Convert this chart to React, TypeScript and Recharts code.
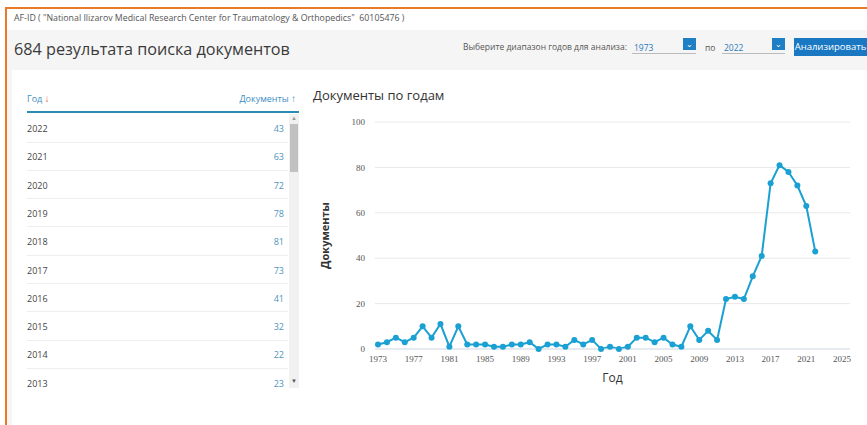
import { LineChart, Line, XAxis, YAxis, CartesianGrid } from "recharts";

const years = [
  1973, 1974, 1975, 1976, 1977, 1978, 1979, 1980, 1981, 1982,
  1983, 1984, 1985, 1986, 1987, 1988, 1989, 1990, 1991, 1992,
  1993, 1994, 1995, 1996, 1997, 1998, 1999, 2000, 2001, 2002,
  2003, 2004, 2005, 2006, 2007, 2008, 2009, 2010, 2011, 2012,
  2013, 2014, 2015, 2016, 2017, 2018, 2019, 2020, 2021, 2022,
];
const docs = [
  2, 3, 5, 3, 5, 10, 5, 11, 1, 10,
  2, 2, 2, 1, 1, 2, 2, 3, 0, 2,
  2, 1, 4, 2, 4, 0, 1, 0, 1, 5,
  5, 3, 5, 2, 1, 10, 4, 8, 4, 22,
  23, 22, 32, 41, 73, 81, 78, 72, 63, 43,
];
const xTicks = [1973, 1977, 1981, 1985, 1989, 1993, 1997, 2001, 2005, 2009, 2013, 2017, 2021, 2025];
const yTicks = [0, 20, 40, 60, 80, 100];
const tableYears = [2022, 2021, 2020, 2019, 2018, 2017, 2016, 2015, 2014, 2013];

const data = years.map((y, i) => ({ year: y, docs: docs[i] }));
const tableRows = tableYears.map((y) => ({ year: y, docs: docs[years.indexOf(y)] }));

const SANS = "'Open Sans', 'Noto Sans', sans-serif";
const BLUE = "#1aa0d2";

export default function App() {
  return (
    <div
      style={{
        position: "absolute",
        left: 0,
        top: 0,
        width: 867,
        height: 425,
        overflow: "hidden",
        background: "#fff",
        fontFamily: SANS,
      }}
    >
      {/* orange frame */}
      <div style={{ position: "absolute", left: 5, top: 7, width: 870, height: 2, background: "#ea7a2a" }} />
      <div style={{ position: "absolute", left: 5, top: 7, width: 2, height: 430, background: "#ea7a2a" }} />

      <div style={{ position: "absolute", left: 14, top: 12, fontSize: 8.8, color: "#555", whiteSpace: "nowrap" }}>
        AF-ID ( "National Ilizarov Medical Research Center for Traumatology &amp; Orthopedics"&nbsp;&nbsp;60105476 )
      </div>

      {/* grey band */}
      <div style={{ position: "absolute", left: 7, top: 30, width: 860, height: 395, background: "#f5f5f5" }} />
      <div style={{ position: "absolute", left: 14, top: 38, fontSize: 16.2, color: "#3a3a3a", whiteSpace: "nowrap" }}>
        684 результата поиска документов
      </div>

      <div style={{ position: "absolute", left: 463, top: 41, fontSize: 8.5, color: "#555", whiteSpace: "nowrap" }}>
        Выберите диапазон годов для анализа:
      </div>
      <div style={{ position: "absolute", left: 634, top: 42, fontSize: 8.5, color: "#2b7bb9" }}>1973</div>
      <div style={{ position: "absolute", left: 632, top: 53, width: 64, height: 1, background: "#bbb" }} />
      <div style={{ position: "absolute", left: 683, top: 38, width: 13, height: 12, background: "#1f7fc4", color: "#fff", fontSize: 8, textAlign: "center", lineHeight: "11px" }}>⌄</div>
      <div style={{ position: "absolute", left: 705, top: 42, fontSize: 8.5, color: "#555" }}>по</div>
      <div style={{ position: "absolute", left: 724, top: 42, fontSize: 8.5, color: "#2b7bb9" }}>2022</div>
      <div style={{ position: "absolute", left: 722, top: 53, width: 63, height: 1, background: "#bbb" }} />
      <div style={{ position: "absolute", left: 772, top: 38, width: 13, height: 12, background: "#1f7fc4", color: "#fff", fontSize: 8, textAlign: "center", lineHeight: "11px" }}>⌄</div>
      <div
        style={{
          position: "absolute",
          left: 794,
          top: 38,
          width: 73,
          height: 18,
          background: "#1a78c2",
          color: "#fff",
          fontSize: 9.5,
          lineHeight: "18px",
          textAlign: "center",
          whiteSpace: "nowrap",
        }}
      >
        Анализировать
      </div>

      {/* white card */}
      <div style={{ position: "absolute", left: 12, top: 70, width: 860, height: 360, background: "#fff" }} />

      {/* table */}
      <div style={{ position: "absolute", left: 27, top: 91, fontSize: 9, color: "#3b8ec2" }}>
        Год <span style={{ color: "#e8643a", fontSize: 10 }}>↓</span>
      </div>
      <div style={{ position: "absolute", left: 200, width: 96, top: 91, fontSize: 9, color: "#3b8ec2", textAlign: "right", whiteSpace: "nowrap" }}>
        Документы <span style={{ fontSize: 10 }}>↑</span>
      </div>
      <div style={{ position: "absolute", left: 27, top: 111, width: 272, height: 2, background: "#2a8bb3" }} />
      {tableRows.map((r, i) => (
        <div key={r.year}>
          <div style={{ position: "absolute", left: 27, top: 122 + i * 28.3, fontSize: 9, color: "#444" }}>{r.year}</div>
          <div style={{ position: "absolute", left: 230, width: 54, top: 122 + i * 28.3, fontSize: 9, color: "#4f95bd", textAlign: "right" }}>
            {r.docs}
          </div>
          {i < tableRows.length - 1 && (
            <div style={{ position: "absolute", left: 27, top: 141.5 + i * 28.3, width: 261, height: 1, background: "#eeeeee" }} />
          )}
        </div>
      ))}
      {/* scrollbar */}
      <div style={{ position: "absolute", left: 289, top: 114, width: 10, height: 274, background: "#f1f1f1" }} />
      <div style={{ position: "absolute", left: 290, top: 124, width: 8, height: 48, background: "#c1c1c1" }} />
      <div style={{ position: "absolute", left: 289, top: 114, width: 10, fontSize: 6, color: "#999", textAlign: "center" }}>▲</div>
      <div style={{ position: "absolute", left: 289, top: 377, width: 10, fontSize: 6, color: "#555", textAlign: "center" }}>▼</div>

      {/* chart */}
      <div style={{ position: "absolute", left: 313, top: 86, fontSize: 13, color: "#333", whiteSpace: "nowrap" }}>
        Документы по годам
      </div>
      <div style={{ position: "absolute", left: 305, top: 110 }}>
        <LineChart width={560} height={282} data={data} margin={{ top: 12, right: 15, bottom: 8, left: 0 }}>
          <CartesianGrid vertical={false} stroke="#e8e8e8" />
          <XAxis
            dataKey="year"
            type="number"
            domain={[1973, 2025]}
            ticks={xTicks}
            padding={{ left: 3, right: 8 }}
            height={35}
            axisLine={{ stroke: "#d6e2ee" }}
            tickLine={false}
            tickMargin={1}
            tick={{ fontSize: 9, fill: "#555", fontFamily: "'Liberation Serif', serif" }}
            label={{ value: "Год", position: "insideBottom", offset: 2, fontSize: 12, fill: "#333", fontFamily: SANS }}
          />
          <YAxis
            domain={[0, 100]}
            ticks={yTicks}
            width={70}
            axisLine={false}
            tickLine={false}
            tickMargin={4}
            tick={{ fontSize: 9, fill: "#555", fontFamily: "'Liberation Serif', serif" }}
            label={{
              value: "Документы",
              angle: -90,
              position: "insideLeft",
              offset: 20,
              fontSize: 11,
              fontWeight: 700,
              fill: "#333",
              fontFamily: SANS,
              style: { textAnchor: "middle" },
            }}
          />
          <Line
            type="linear"
            dataKey="docs"
            stroke={BLUE}
            strokeWidth={2}
            dot={{ r: 3, fill: BLUE, stroke: BLUE, strokeWidth: 0 }}
            isAnimationActive={false}
          />
        </LineChart>
      </div>
    </div>
  );
}
